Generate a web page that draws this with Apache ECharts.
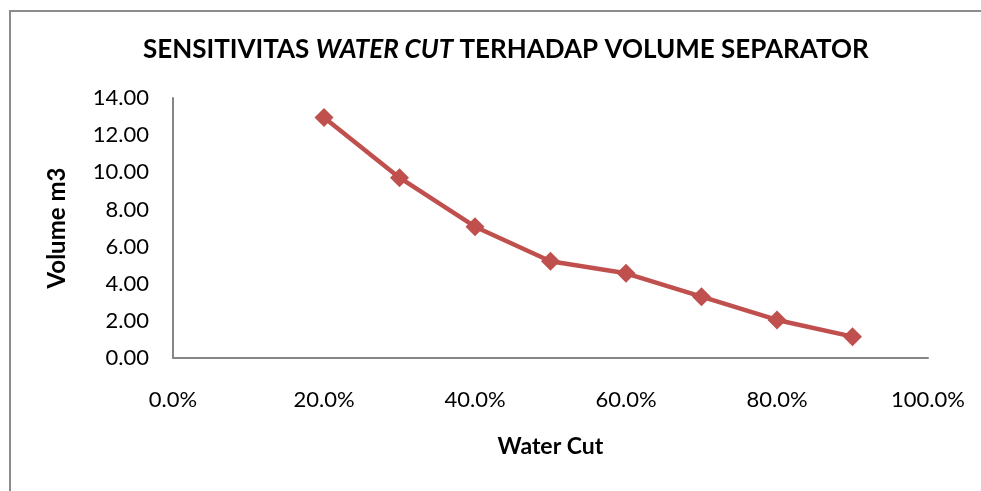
<!DOCTYPE html>
<html>
<head>
<meta charset="utf-8">
<script src="https://cdn.jsdelivr.net/npm/echarts@6/dist/echarts.min.js"></script>
<style>
  html, body { margin: 0; padding: 0; background: #fff; }
  #frame { position: absolute; left: 9px; top: 10px; width: 972px; height: 481px;
           border-left: 2px solid #8c8c8c; border-top: 2px solid #8c8c8c; }
  #chart { position: absolute; left: 0; top: 0; width: 981px; height: 491px; }
</style>
</head>
<body>
<div id="frame"></div>
<div id="chart"></div>
<script>
// water cut (%) vs separator volume (m3)
const waterCut = [20, 30, 40, 50, 60, 70, 80, 90];
const volume   = [12.95, 9.71, 7.07, 5.21, 4.56, 3.30, 2.05, 1.15];
const yTicks   = [0, 2, 4, 6, 8, 10, 12, 14];

const FONT = 'Lato, "Open Sans", sans-serif';

let myChart = echarts.init(document.getElementById('chart'));
myChart.setOption({
    animation: false,
    title: {
        text: '{n|SENSITIVITAS }{i|WATER CUT}{n| TERHADAP VOLUME SEPARATOR}',
        left: 138,
        top: 32,
        textStyle: {
            rich: {
                n: { fontFamily: FONT, fontWeight: 'bold', fontSize: 26, color: '#000' },
                i: { fontFamily: FONT, fontWeight: 'bold', fontStyle: 'italic', fontSize: 26, color: '#000' }
            }
        }
    },
    grid: { left: 173, right: 53, top: 98, bottom: 133 },
    xAxis: {
        type: 'value',
        min: 0, max: 100, interval: 20,
        name: 'Water Cut',
        nameLocation: 'middle',
        nameGap: 77,
        nameTextStyle: { fontFamily: FONT, fontWeight: 'bold', fontSize: 23, color: '#000' },
        axisLine: { lineStyle: { color: '#868686', width: 2 } },
        axisTick: { show: false },
        splitLine: { show: false },
        axisLabel: {
            margin: 31,
            fontFamily: FONT, fontSize: 22, color: '#000',
            formatter: v => v.toFixed(1) + '%'
        }
    },
    yAxis: {
        type: 'value',
        min: yTicks[0], max: yTicks[yTicks.length - 1], interval: 2,
        name: 'Volume m3',
        nameLocation: 'middle',
        nameRotate: 90,
        nameGap: 104,
        nameTextStyle: { fontFamily: FONT, fontWeight: 'bold', fontSize: 24, color: '#000' },
        axisLine: { show: true, lineStyle: { color: '#868686', width: 2 } },
        axisTick: { show: false },
        splitLine: { show: false },
        axisLabel: {
            margin: 24,
            fontFamily: FONT, fontSize: 22, color: '#000',
            formatter: v => v.toFixed(2)
        }
    },
    series: [{
        type: 'line',
        data: waterCut.map((x, i) => [x, volume[i]]),
        symbol: 'diamond',
        symbolSize: 19,
        lineStyle: { color: '#C0504D', width: 4.5 },
        itemStyle: { color: '#C0504D' }
    }]
});
</script>
</body>
</html>
